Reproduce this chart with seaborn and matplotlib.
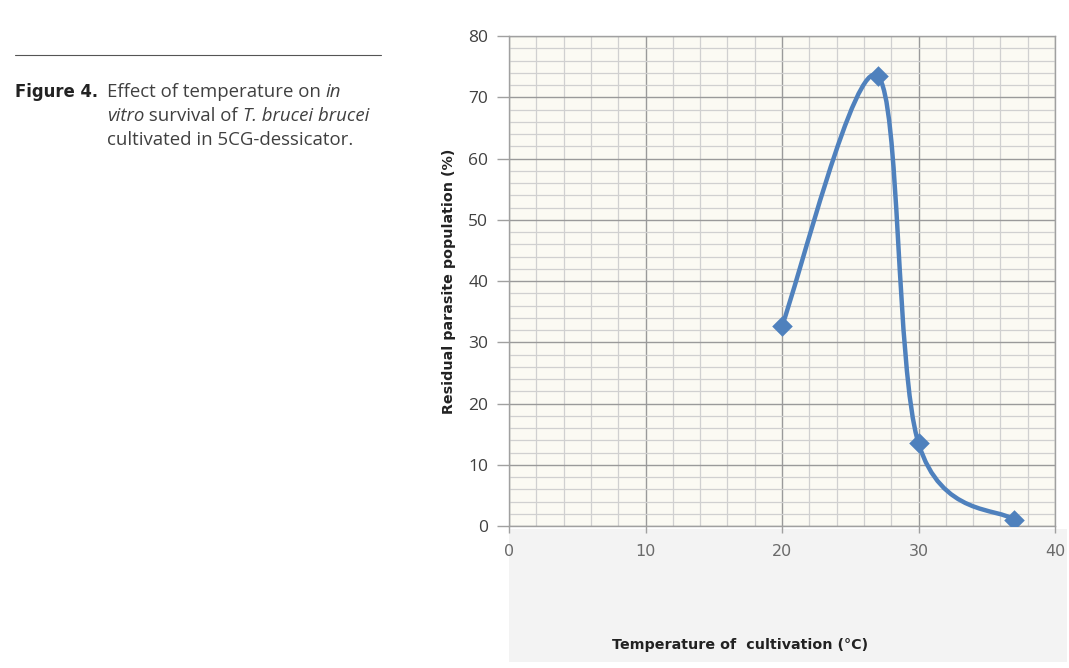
import numpy as np
import matplotlib
matplotlib.use("Agg")
import matplotlib.pyplot as plt
from matplotlib.path import Path
from matplotlib.patches import PathPatch, Rectangle
import seaborn as sns
import pandas as pd

# ---- data ----
temperature = [20, 27, 30, 37]
residual = [32.7, 73.5, 13.5, 1.0]
x_ticks = [0, 10, 20, 30, 40]
y_ticks = [0, 10, 20, 30, 40, 50, 60, 70, 80]

sns.set_theme(style="white")
plt.rcParams['font.family'] = ['Open Sans', 'DejaVu Sans']

BLUE = "#4F81BD"
fig = plt.figure(figsize=(10.69, 6.68), dpi=100)
fig.patch.set_facecolor("white")

# gray band below the plot (x-label area)
fig.patches.append(Rectangle((509/1069, 1-662/668), (1067-509)/1069, (662-529)/668,
                             transform=fig.transFigure, facecolor="#F3F3F3",
                             edgecolor="none", zorder=-5))

ax = fig.add_axes([509/1069, 1-526/668, (1055-509)/1069, (526-36)/668])
ax.set_facecolor("#FBFAF3")
ax.set_zorder(1)

df = pd.DataFrame({"t": temperature, "r": residual})

# smooth (Excel-like Bezier) curve through data
P = np.column_stack([temperature, residual]).astype(float)
n = len(P)
verts = [tuple(P[0])]
codes = [Path.MOVETO]
for i in range(n - 1):
    p_prev = P[i - 1] if i > 0 else P[i]
    p_next2 = P[i + 2] if i + 2 < n else P[i + 1]
    c1 = P[i] + (P[i + 1] - p_prev) / 6.0
    c2 = P[i + 1] - (p_next2 - P[i]) / 6.0
    verts += [tuple(c1), tuple(c2), tuple(P[i + 1])]
    codes += [Path.CURVE4] * 3
ax.add_patch(PathPatch(Path(verts, codes), facecolor="none", edgecolor=BLUE,
                       lw=3.2, capstyle="round", joinstyle="round", zorder=3))

sns.scatterplot(data=df, x="t", y="r", marker="D", s=110, color=BLUE,
                edgecolor=BLUE, linewidth=0, ax=ax, zorder=4)

ax.set_xlim(0, 40)
ax.set_ylim(0, 80)
ax.set_xticks(x_ticks)
ax.set_yticks(y_ticks)
ax.set_xticks(np.arange(0, 41, 2), minor=True)
ax.set_yticks(np.arange(0, 81, 2), minor=True)
ax.grid(which="minor", color="#D0D0D0", lw=0.9, zorder=1)
ax.grid(which="major", color="#9A9A9A", lw=1.0, zorder=1)
ax.set_axisbelow(True)

for s in ax.spines.values():
    s.set_color("#A0A0A0")
    s.set_linewidth(1.0)

ax.tick_params(axis="y", which="major", direction="out", length=9, width=1,
               color="#A0A0A0", labelsize=12.5, labelcolor="#404040", pad=6, left=True)
ax.tick_params(axis="x", which="major", direction="out", length=5, width=1,
               color="#A0A0A0", labelsize=11.5, labelcolor="#6A6A6A", pad=8, bottom=True)
ax.tick_params(which="minor", length=0)
for lab in ax.get_xticklabels():
    lab.set_fontfamily("DejaVu Sans")
ax.set_xlabel("")
ax.set_ylabel("Residual parasite population (%)", fontsize=10.3, fontweight="bold",
              color="#222222", labelpad=9, family=["DejaVu Sans"])

fig.text(740/1069, 1-645/668, "Temperature of  cultivation (°C)", fontsize=10.3,
         fontweight="bold", color="#222222", ha="center", va="center",
         family=["DejaVu Sans"])

# caption
fig.add_artist(plt.Line2D([15/1069, 381/1069], [1-55/668, 1-55/668],
                          transform=fig.transFigure, color="#555555", lw=0.8))
fs = 13.4
tc = "#404040"
fig.text(15/1069, 1-101/668, "Figure 4.", fontsize=11.9, fontweight="bold",
         color="#222222", va="bottom", family=["DejaVu Sans"])
lines = [
    [("Effect of temperature on ", "normal"), ("in", "italic")],
    [("vitro", "italic"), (" survival of ", "normal"), ("T. brucei brucei", "italic")],
    [("cultivated in 5CG-dessicator.", "normal")],
]
line_y = [101, 125, 149]
for segs, yy in zip(lines, line_y):
    prev = None
    for txt, style in segs:
        if prev is None:
            prev = fig.text(107/1069, 1-yy/668, txt, fontsize=fs, style=style,
                            color=tc, va="bottom")
        else:
            prev = fig.add_artist(matplotlib.text.Annotation(
                txt, xy=(1, 0), xycoords=prev, va="bottom", ha="left",
                fontsize=fs, style=style, color=tc))

fig.savefig("out.png", dpi=100)
